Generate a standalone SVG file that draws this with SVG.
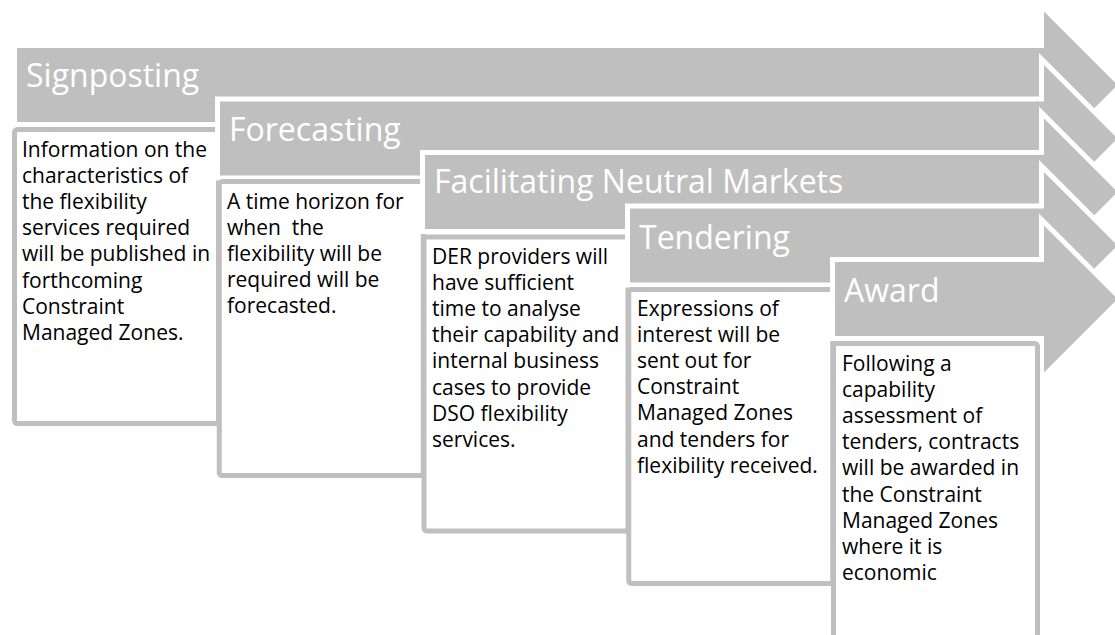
<svg xmlns="http://www.w3.org/2000/svg" width="1115" height="635" viewBox="0 0 1115 635">
<style>
.arrow{fill:#bfbfbf;stroke:#ffffff;stroke-width:5;stroke-linejoin:miter;stroke-miterlimit:10}
.box{fill:#ffffff;stroke:#bfbfbf;stroke-width:5}
.label{font-family:"Open Sans","Liberation Sans",sans-serif;font-size:32px;fill:#ffffff}
.body{font-family:"Open Sans","Liberation Sans",sans-serif;font-size:21px;fill:#000000}
</style>
<rect width="1115" height="635" fill="#ffffff"/>
<g id="step-signposting">
<path class="arrow" d="M14.5,45.5 H1041.5 V5.5 L1121,85 L1041.5,164.5 V124.5 H14.5 Z"/>
<rect class="box" x="14.5" y="129.5" width="204" height="294" rx="3"/>
<text class="label" x="26" y="87">Signposting</text>
<text class="body" x="22" y="157">
<tspan x="22" y="157">Information on the</tspan>
<tspan x="22" y="183.1">characteristics of</tspan>
<tspan x="22" y="209.2">the flexibility</tspan>
<tspan x="22" y="235.3">services required</tspan>
<tspan x="22" y="261.4">will be published in</tspan>
<tspan x="22" y="287.5">forthcoming</tspan>
<tspan x="22" y="313.6">Constraint</tspan>
<tspan x="22" y="339.7">Managed Zones.</tspan>
</text>
</g>
<g id="step-forecasting">
<path class="arrow" d="M217.5,99 H1041.5 V59 L1121,138.5 L1041.5,218 V178 H217.5 Z"/>
<rect class="box" x="219.25" y="181.5" width="204" height="294" rx="3"/>
<text class="label" x="229" y="141">Forecasting</text>
<text class="body" x="227" y="209" xml:space="preserve"><tspan x="227" y="209">A time horizon for</tspan><tspan x="227" y="235.1">when  the</tspan><tspan x="227" y="261.2">flexibility will be</tspan><tspan x="227" y="287.3">required will be</tspan><tspan x="227" y="313.4">forecasted.</tspan></text>
</g>
<g id="step-facilitating">
<path class="arrow" d="M422.5,152.5 H1041.5 V112.5 L1121,192 L1041.5,271.5 V231.5 H422.5 Z"/>
<rect class="box" x="424" y="237" width="204" height="294" rx="3"/>
<text class="label" x="434" y="193">Facilitating Neutral Markets</text>
<text class="body">
<tspan x="432" y="264">DER providers will</tspan>
<tspan x="432" y="290.1">have sufficient</tspan>
<tspan x="432" y="316.2">time to analyse</tspan>
<tspan x="432" y="342.3">their capability and</tspan>
<tspan x="432" y="368.4">internal business</tspan>
<tspan x="432" y="394.5">cases to provide</tspan>
<tspan x="432" y="420.6">DSO flexibility</tspan>
<tspan x="432" y="446.7">services.</tspan>
</text>
</g>
<g id="step-tendering">
<path class="arrow" d="M627.5,206 H1041.5 V166 L1121,245.5 L1041.5,325 V285 H627.5 Z"/>
<rect class="box" x="628.75" y="289.5" width="204" height="294" rx="3"/>
<text class="label" x="639" y="249">Tendering</text>
<text class="body">
<tspan x="637" y="316">Expressions of</tspan>
<tspan x="637" y="342.1">interest will be</tspan>
<tspan x="637" y="368.2">sent out for</tspan>
<tspan x="637" y="394.3">Constraint</tspan>
<tspan x="637" y="420.4">Managed Zones</tspan>
<tspan x="637" y="446.5">and tenders for</tspan>
<tspan x="637" y="472.6">flexibility received.</tspan>
</text>
</g>
<g id="step-award">
<path class="arrow" d="M832.5,259.5 H1041.5 V219.5 L1121,299 L1041.5,378.5 V338.5 H832.5 Z"/>
<rect class="box" x="833.5" y="343.5" width="204" height="294" rx="3"/>
<text class="label" x="844" y="302">Award</text>
<text class="body">
<tspan x="842" y="371">Following a</tspan>
<tspan x="842" y="397.1">capability</tspan>
<tspan x="842" y="423.2">assessment of</tspan>
<tspan x="842" y="449.3">tenders, contracts</tspan>
<tspan x="842" y="475.4">will be awarded in</tspan>
<tspan x="842" y="501.5">the Constraint</tspan>
<tspan x="842" y="527.6">Managed Zones</tspan>
<tspan x="842" y="553.7">where it is</tspan>
<tspan x="842" y="579.8">economic</tspan>
</text>
</g>
</svg>
